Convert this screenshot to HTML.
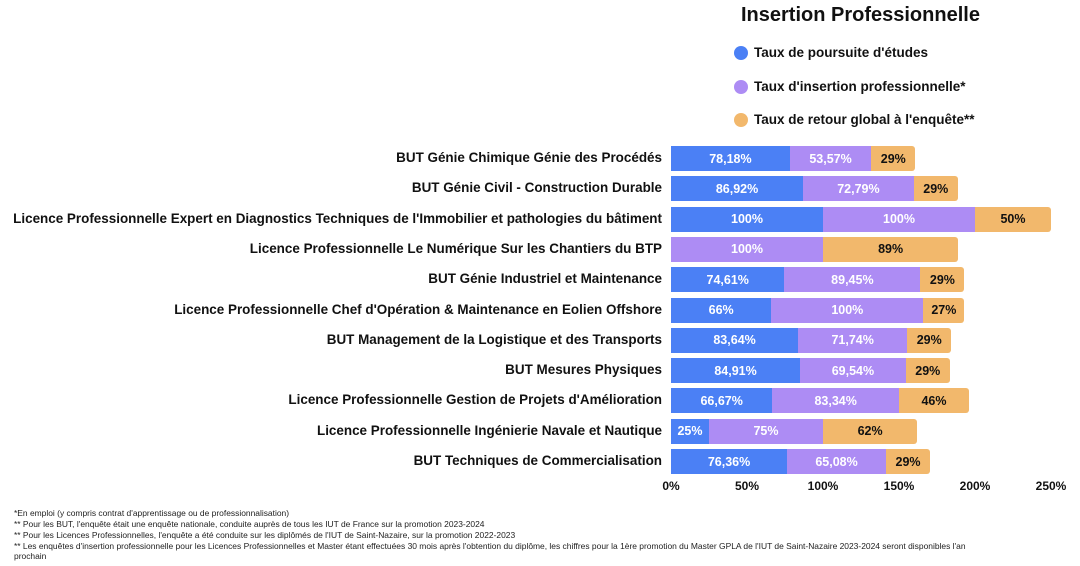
<!DOCTYPE html>
<html><head><meta charset="utf-8"><style>
body{margin:0;width:1080px;height:566px;background:#fff;font-family:"Liberation Sans",sans-serif;position:relative;overflow:hidden}
.a{position:absolute;white-space:nowrap}
.lab{right:418px;font-weight:bold;font-size:13.45px;color:#111;text-align:right}
.seg{position:absolute;height:25px;color:#fff;font-weight:bold;font-size:12.5px;display:flex;align-items:center;justify-content:center}
.b{background:#4b80f5}.p{background:#ad8cf4}.o{background:#f2b86c;color:#111}
.ax{font-weight:bold;font-size:12px;color:#111;top:479px;transform:translateX(-50%)}
.leg{left:754px;font-weight:bold;font-size:13.5px;color:#111}
.dot{position:absolute;left:734px;width:14px;height:14px;border-radius:50%}
.fn{left:14px;font-size:8.45px;color:#222}
</style></head><body>
<div class="a" style="left:741px;top:4px;font-size:20px;font-weight:bold;color:#111">Insertion Professionnelle</div>
<div class="dot b" style="top:46px"></div><div class="a leg" style="top:45px">Taux de poursuite d'études</div>
<div class="dot p" style="top:80px"></div><div class="a leg" style="top:79px">Taux d'insertion professionnelle*</div>
<div class="dot o" style="top:113px"></div><div class="a leg" style="top:112px">Taux de retour global à l'enquête**</div>
<div id="c"></div>
<div class="a ax" style="left:671px">0%</div>
<div class="a ax" style="left:747px">50%</div>
<div class="a ax" style="left:823px">100%</div>
<div class="a ax" style="left:899px">150%</div>
<div class="a ax" style="left:975px">200%</div>
<div class="a ax" style="left:1051px">250%</div>
<div class="a fn" style="top:508px">*En emploi (y compris contrat d'apprentissage ou de professionnalisation)</div>
<div class="a fn" style="top:519px">** Pour les BUT, l'enquête était une enquête nationale, conduite auprès de tous les IUT de France sur la promotion 2023-2024</div>
<div class="a fn" style="top:530px">** Pour les Licences Professionnelles, l'enquête a été conduite sur les diplômés de l'IUT de Saint-Nazaire, sur la promotion 2022-2023</div>
<div class="a fn" style="top:541px">** Les enquêtes d'insertion professionnelle pour les Licences Professionnelles et Master étant effectuées 30 mois après l'obtention du diplôme, les chiffres pour la 1ère promotion du Master GPLA de l'IUT de Saint-Nazaire 2023-2024 seront disponibles l'an</div>
<div class="a fn" style="top:551px">prochain</div>
<script>
var rows=[
["BUT Génie Chimique Génie des Procédés",78.18,"78,18%",53.57,"53,57%",29,"29%"],
["BUT Génie Civil - Construction Durable",86.92,"86,92%",72.79,"72,79%",29,"29%"],
["Licence Professionnelle Expert en Diagnostics Techniques de l'Immobilier et pathologies du bâtiment",100,"100%",100,"100%",50,"50%"],
["Licence Professionnelle Le Numérique Sur les Chantiers du BTP",0,"",100,"100%",89,"89%"],
["BUT Génie Industriel et Maintenance",74.61,"74,61%",89.45,"89,45%",29,"29%"],
["Licence Professionnelle Chef d'Opération & Maintenance en Eolien Offshore",66,"66%",100,"100%",27,"27%"],
["BUT Management de la Logistique et des Transports",83.64,"83,64%",71.74,"71,74%",29,"29%"],
["BUT Mesures Physiques",84.91,"84,91%",69.54,"69,54%",29,"29%"],
["Licence Professionnelle Gestion de Projets d'Amélioration",66.67,"66,67%",83.34,"83,34%",46,"46%"],
["Licence Professionnelle Ingénierie Navale et Nautique",25,"25%",75,"75%",62,"62%"],
["BUT Techniques de Commercialisation",76.36,"76,36%",65.08,"65,08%",29,"29%"]];
var h="",k=1.52;
rows.forEach(function(r,i){
 var t=146+i*30.3;
 h+='<div class="a lab" style="top:'+(t+4)+'px">'+r[0]+'</div>';
 var x=671;
 [["b",r[1],r[2]],["p",r[3],r[4]],["o",r[5],r[6]]].forEach(function(s,j){
  if(!s[1])return;var w=s[1]*k;
  h+='<div class="seg '+s[0]+'" style="top:'+t+'px;left:'+x+'px;width:'+w+'px;'+(j==2?'border-radius:0 3px 3px 0':'')+'">'+s[2]+'</div>';
  x+=w;});
});
document.getElementById("c").innerHTML=h;
</script>
</body></html>
